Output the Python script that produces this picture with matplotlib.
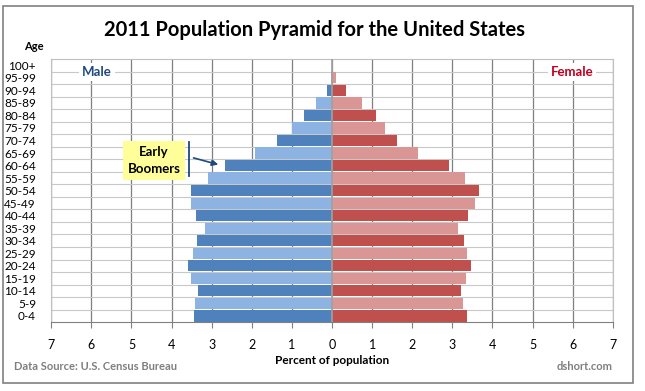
import matplotlib.pyplot as plt

plt.rcParams['font.family'] = ['Lato', 'DejaVu Sans']

# age groups, youngest first
ages = ["0-4", "5-9", "10-14", "15-19", "20-24", "25-29", "30-34", "35-39",
        "40-44", "45-49", "50-54", "55-59", "60-64", "65-69", "70-74",
        "75-79", "80-84", "85-89", "90-94", "95-99", "100+"]

# percent of population
male = [3.45, 3.42, 3.35, 3.52, 3.60, 3.47, 3.37, 3.17, 3.38, 3.51, 3.52,
        3.09, 2.67, 1.91, 1.37, 0.99, 0.71, 0.40, 0.13, 0.02, 0.0]
female = [3.36, 3.26, 3.22, 3.33, 3.46, 3.36, 3.28, 3.13, 3.38, 3.57, 3.66,
          3.31, 2.91, 2.14, 1.63, 1.31, 1.09, 0.75, 0.35, 0.10, 0.01]

xticks = list(range(-7, 8))
xticklabels = [str(abs(v)) for v in xticks]

male_dark, male_light = "#4F81BD", "#8DB3E2"
female_dark, female_light = "#C0504D", "#D99694"

fig = plt.figure(figsize=(6.45, 3.91), dpi=100)
ax = fig.add_axes([0.0795, 0.176, 0.8705, 0.673])

pos = list(range(len(ages)))
mcol = [male_dark if i % 2 == 0 else male_light for i in pos]
fcol = [female_dark if i % 2 == 0 else female_light for i in pos]

ax.barh(pos, [-m for m in male], height=0.9, color=mcol, zorder=3)
ax.barh(pos, female, height=0.9, color=fcol, zorder=3)

ax.set_xlim(-7, 7)
ax.set_ylim(-0.5, len(ages) - 0.5)

# grid
for x in xticks:
    ax.axvline(x, color="#7f7f7f", lw=0.9, zorder=1)
for k in range(len(ages) - 1):
    ax.axhline(k + 0.5, color="#c8c8c8", lw=0.8, zorder=1)
ax.axvline(0, color="#a0a0a0", lw=1.2, zorder=4)

for s in ["top", "right", "left"]:
    ax.spines[s].set_color("#bfbfbf")
ax.spines["bottom"].set_color("#808080")

ax.set_xticks(xticks)
ax.set_xticklabels(xticklabels, fontsize=9)
ax.set_yticks(pos)
ax.set_yticklabels(ages, fontsize=8.5)
ax.tick_params(axis="y", length=0, pad=11)
ax.tick_params(axis="x", length=4, color="#808080", pad=8)

ax.set_xlabel("Percent of population", fontsize=8.5, fontweight="bold", labelpad=3)

fig.text(0.488, 0.922, "2011 Population Pyramid for the United States",
         ha="center", va="center", fontsize=14.5, fontweight="bold")
fig.text(0.052, 0.88, "Age", ha="center", va="center", fontsize=8, fontweight="bold")

ax.text(-5.86, 19.45, "Male", ha="center", va="center", fontsize=9.5, fontweight="bold",
        color="#1F497D", zorder=5,
        bbox=dict(facecolor="white", edgecolor="none", pad=2))
ax.text(5.98, 19.45, "Female", ha="center", va="center", fontsize=9.5, fontweight="bold",
        color="#C00020", zorder=5,
        bbox=dict(facecolor="white", edgecolor="none", pad=2))

# early boomers callout
ax.text(-4.44, 12.4, "Early\nBoomers", ha="center", va="center", fontsize=9.5,
        fontweight="bold", linespacing=1.45, zorder=6,
        bbox=dict(facecolor="#FFFF99", edgecolor="none", pad=3.5))
ax.plot([-3.57, -3.57], [11.15, 13.85], color="#1F497D", lw=1.3, zorder=6)
ax.annotate("", xy=(-2.77, 12.02), xytext=(-3.52, 12.67),
            arrowprops=dict(arrowstyle="-|>", color="#1F497D", lw=1.2,
                            mutation_scale=9), zorder=6)

fig.text(0.022, 0.062, "Data Source: U.S. Census Bureau", ha="left", va="center",
         fontsize=8, fontweight="bold", color="#7f7f7f")
fig.text(0.95, 0.062, "dshort.com", ha="right", va="center",
         fontsize=8, fontweight="bold", color="#7f7f7f")

# outer frame
frame = plt.Rectangle((0.004, 0.02), 0.978, 0.965, transform=fig.transFigure,
                      fill=False, edgecolor="#808080", lw=1.2)
fig.patches.append(frame)

fig.savefig("out.png", dpi=100)
